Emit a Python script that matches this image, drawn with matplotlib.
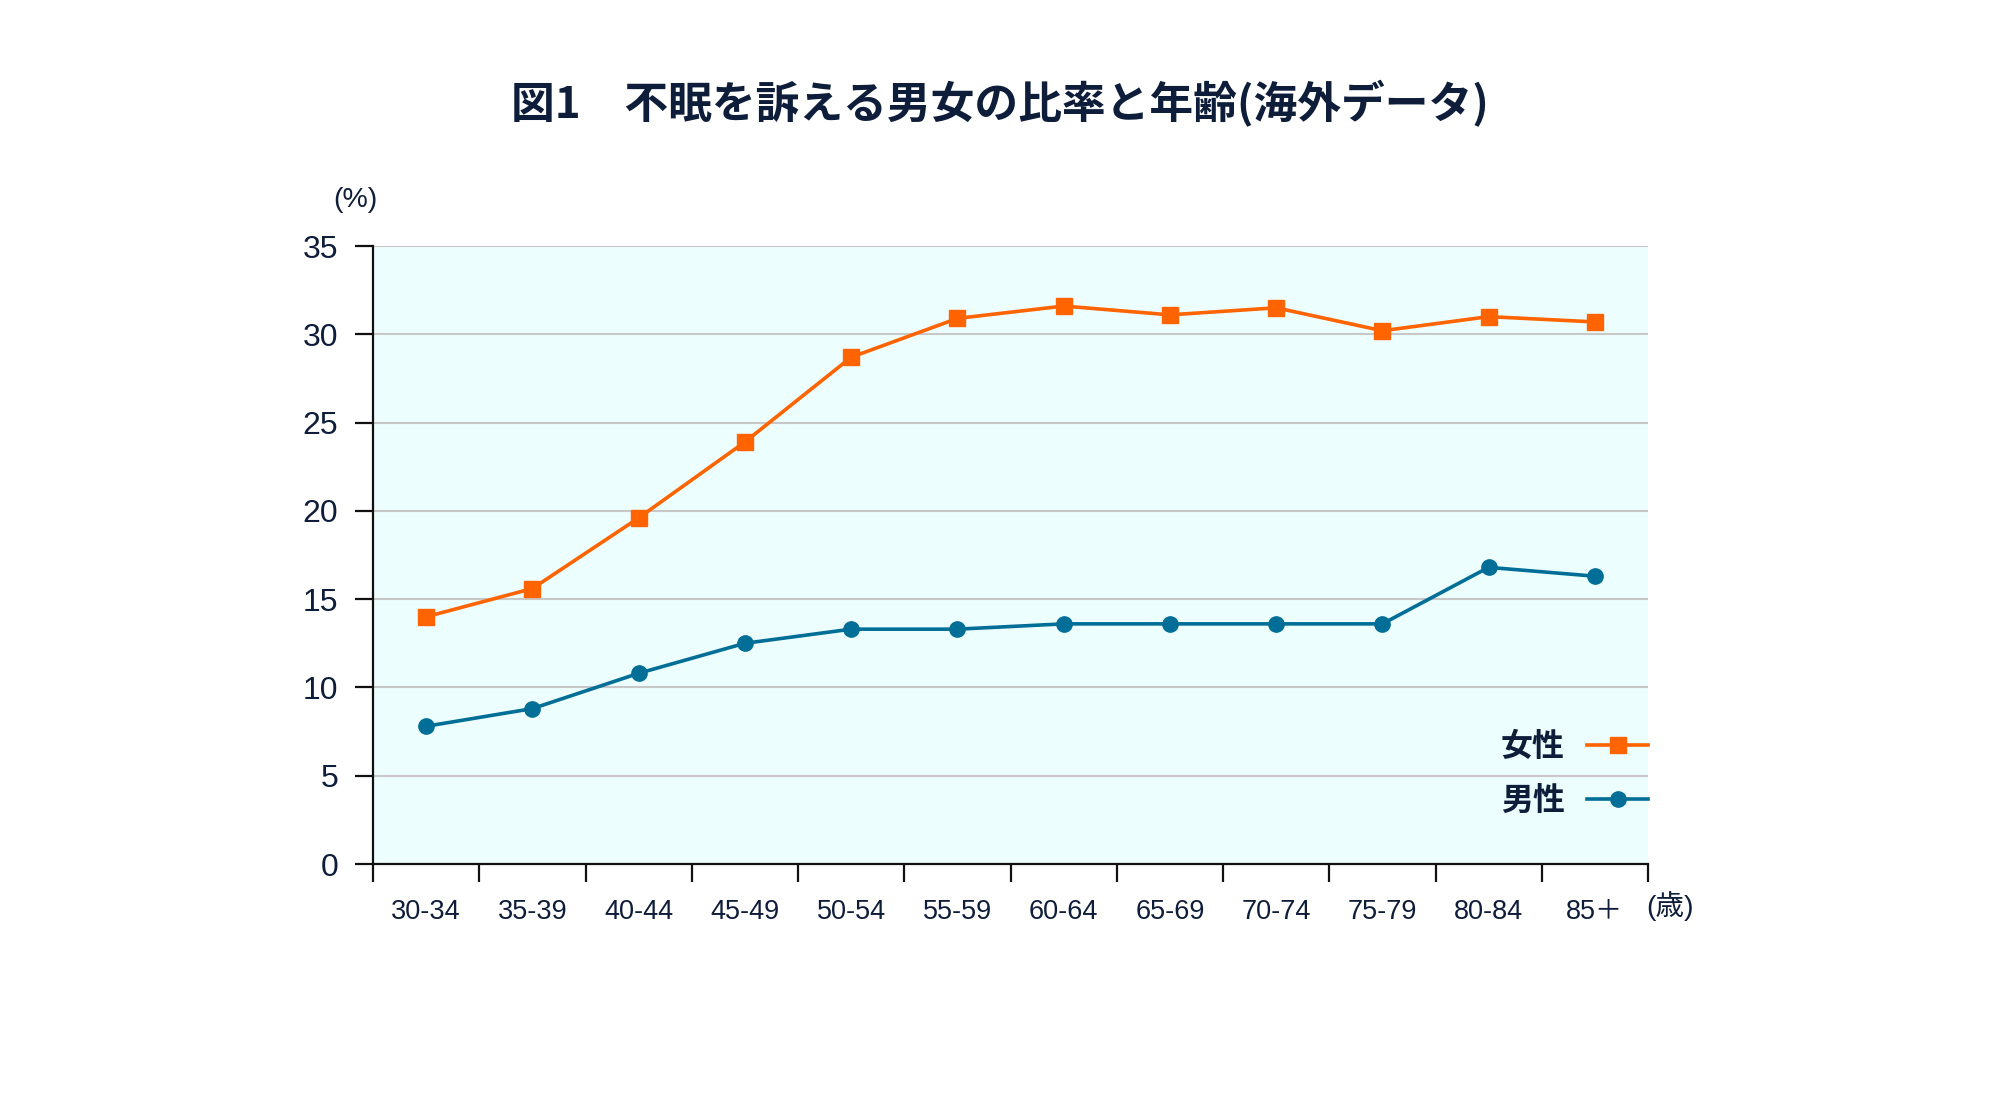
import matplotlib
matplotlib.use("Agg")
import matplotlib.pyplot as plt
import numpy as np

categories = ["30-34", "35-39", "40-44", "45-49", "50-54", "55-59",
              "60-64", "65-69", "70-74", "75-79", "80-84", "85＋"]
female = [14.0, 15.6, 19.6, 23.9, 28.7, 30.9, 31.6, 31.1, 31.5, 30.2, 31.0, 30.7]
male = [7.8, 8.8, 10.8, 12.5, 13.3, 13.3, 13.6, 13.6, 13.6, 13.6, 16.8, 16.3]
y_ticks = [0, 5, 10, 15, 20, 25, 30, 35]
title = "図1　不眠を訴える男女の比率と年齢(海外データ)"
y_unit = "(%)"
x_unit = "(歳)"
label_female = "女性"
label_male = "男性"

TEXT = "#0E1D3A"
ORANGE = "#FF6400"
TEAL = "#006E96"
BG = "#EDFEFE"
GRID = "#C8C8C8"
LATIN = ["Liberation Sans", "Noto Sans CJK JP", "DejaVu Sans"]
CJK = ["Noto Sans CJK JP", "DejaVu Sans"]

plt.rcParams["font.family"] = LATIN

fig = plt.figure(figsize=(20, 11.02), dpi=100)
ax = fig.add_axes([373 / 2000, 238 / 1102, 1275 / 2000, 618 / 1102])
ax.set_facecolor(BG)

ax.plot(categories, female, color=ORANGE, lw=2.6, marker="s", ms=11.5,
        label=label_female, zorder=3)
ax.plot(categories, male, color=TEAL, lw=2.6, marker="o", ms=11,
        label=label_male, zorder=3)

n = len(categories)
ax.set_xlim(-0.5, n - 0.5)
ax.set_ylim(0, 35)
ax.set_yticks(y_ticks)
ax.set_yticklabels([str(v) for v in y_ticks], fontsize=23, color=TEXT)
ax.yaxis.grid(True, color=GRID, lw=1.5, zorder=0)
ax.set_axisbelow(True)

ax.set_xticks(range(n))
ax.set_xticklabels(categories, fontsize=19.5, color=TEXT)
ax.set_xticks(np.arange(-0.5, n, 1.0), minor=True)
ax.tick_params(axis="x", which="major", length=0, pad=25)
ax.tick_params(axis="x", which="minor", length=13, width=1.6, color="#111111")
ax.tick_params(axis="y", which="major", length=13, width=1.6, color="#111111", pad=12)

for s in ["top", "right"]:
    ax.spines[s].set_visible(False)
for s in ["left", "bottom"]:
    ax.spines[s].set_linewidth(1.6)
    ax.spines[s].set_color("#111111")

fig.text(0.5, 1 - 104 / 1102, title, ha="center", va="center",
         fontsize=31.5, fontweight="bold", color=TEXT, family=CJK)
fig.text(355 / 2000, 1 - 200 / 1102, y_unit, ha="center", va="center",
         fontsize=20.5, color=TEXT)
fig.text(1670 / 2000, 1 - 906 / 1102, x_unit, ha="center", va="center",
         fontsize=20.5, color=TEXT)

leg = ax.legend(loc="center right", bbox_to_anchor=(1.0, 0.145),
                frameon=False, markerfirst=False, handlelength=1.9,
                handletextpad=0.7, labelspacing=0.7, borderpad=0,
                borderaxespad=0,
                prop={"family": CJK, "size": 23, "weight": "bold"})
for t in leg.get_texts():
    t.set_color(TEXT)

fig.savefig("out.png", dpi=100, facecolor="white")
